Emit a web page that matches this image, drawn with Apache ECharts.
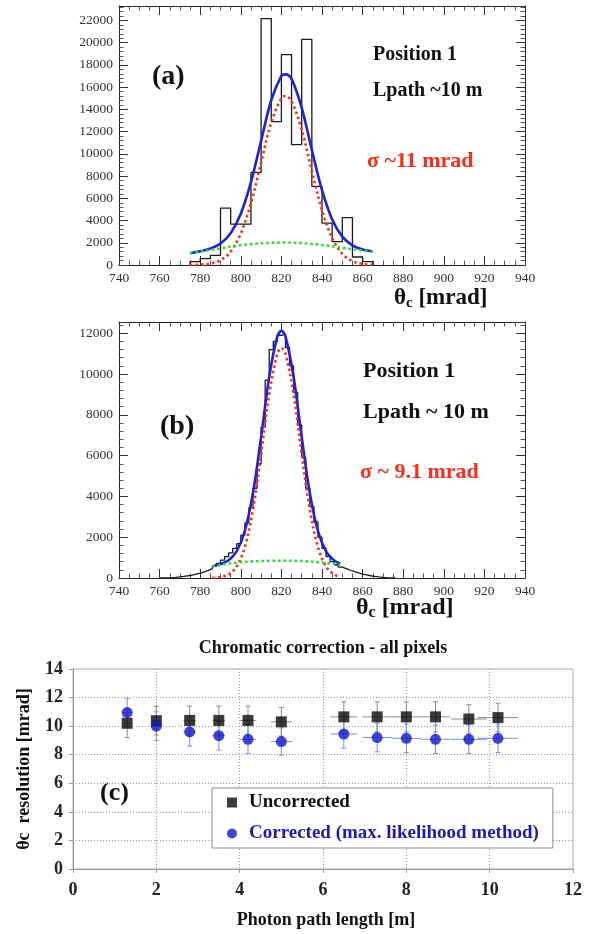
<!DOCTYPE html>
<html>
<head>
<meta charset="utf-8">
<script src="https://cdn.jsdelivr.net/npm/echarts@6/dist/echarts.min.js"></script>
<style>
  html, body { margin: 0; padding: 0; background: #fff; }
  #chart { width: 592px; height: 934px; }
</style>
</head>
<body>
<div id="chart"></div>
<script>
// ---------- (a) Cherenkov angle histogram, uncorrected ----------
const histAEdges = [775, 780, 785, 790, 795, 800, 805, 810, 815, 820, 825, 830, 835, 840, 845, 850, 855, 860, 865];
const histACounts = [300, 570, 870, 5110, 3670, 3670, 8330, 22170, 12900, 18920, 10830, 20300, 7070, 3760, 2100, 4270, 720, 300];

const fitAX = [775, 780, 785, 790, 795, 800, 805, 810, 815, 820, 822, 825, 830, 835, 840, 845, 850, 855, 860, 865];
const fitATotal = [1060, 1230, 1480, 1930, 2860, 4610, 7450, 11170, 14820, 17010, 17150, 16740, 14140, 10350, 6730, 4100, 2550, 1770, 1400, 1225];
const fitASignal = [7, 33, 130, 430, 1210, 2830, 5570, 9220, 12820, 14990, 15200, 14730, 12170, 8450, 4930, 2420, 1000, 350, 100, 25];
const fitABackground = [1050, 1200, 1350, 1500, 1650, 1780, 1880, 1950, 2000, 2020, 2020, 2010, 1970, 1900, 1800, 1680, 1550, 1420, 1300, 1200];

// ---------- (b) Cherenkov angle histogram, chromatically corrected ----------
const histBEdges = [760, 762, 764, 766, 768, 770, 772, 774, 776, 778, 780, 782, 784, 786, 788, 790, 792, 794, 796, 798,
  800, 802, 804, 806, 808, 810, 812, 814, 816, 818, 820, 822, 824, 826, 828, 830, 832, 834, 836, 838,
  840, 842, 844, 846, 848, 850, 852, 854, 856, 858, 860, 862, 864, 866, 868, 870, 872, 874, 876];
const histBCounts = [5, 10, 20, 35, 55, 80, 110, 145, 185, 235, 295, 370, 460, 580, 720, 880, 1050, 1230, 1450, 1680,
  2100, 2700, 3450, 4400, 5600, 7400, 9700, 11200, 11600, 11900, 11950, 11300, 10400, 9100, 7500, 5900, 4400, 3500, 2750, 2000,
  1450, 1050, 800, 650, 530, 460, 380, 310, 250, 190, 150, 110, 80, 55, 35, 20, 10, 0];

const fitBX = [786, 790, 794, 798, 802, 806, 810, 814, 818, 820, 822, 826, 830, 834, 838, 842, 846, 849];
const fitBTotal = [580, 684, 874, 1317, 2315, 4175, 6910, 9865, 11845, 12115, 11845, 9865, 6910, 4170, 2305, 1307, 864, 703];
const fitBSignal = [10, 44, 174, 567, 1525, 3360, 6080, 9025, 11000, 11270, 11000, 9025, 6080, 3360, 1525, 567, 174, 63];
const fitBBackground = [570, 640, 700, 750, 790, 815, 830, 840, 845, 845, 845, 840, 830, 810, 780, 740, 690, 640];

// ---------- (c) resolution vs photon path length ----------
const pathLength = [1.3, 2.0, 2.8, 3.5, 4.2, 5.0, 6.5, 7.3, 8.0, 8.7, 9.5, 10.2];
const pathLengthErr = [0.1, 0.1, 0.15, 0.15, 0.2, 0.25, 0.32, 0.35, 0.35, 0.35, 0.43, 0.48];
const uncorrected = [10.2, 10.38, 10.4, 10.4, 10.4, 10.3, 10.65, 10.65, 10.65, 10.65, 10.5, 10.6];
const uncorrectedErr = [1.0, 1.0, 1.0, 1.0, 1.0, 1.0, 1.05, 1.05, 1.05, 1.05, 1.0, 1.0];
const corrected = [10.95, 10.0, 9.6, 9.33, 9.08, 8.92, 9.45, 9.2, 9.15, 9.08, 9.08, 9.15];
const correctedErr = [1.0, 1.0, 1.0, 1.0, 1.0, 0.95, 1.0, 1.0, 1.0, 1.0, 1.0, 1.0];

const angleTicks = { min: 740, max: 940, step: 20 };
const resolutionTicks = { min: 0, max: 14, step: 2 };
const pathTicks = { min: 0, max: 12, step: 2 };

const SERIF = '"Liberation Serif", "DejaVu Serif", serif';

// outline of a step histogram built from bin edges and contents
function histOutline(edges, counts) {
  const pts = [[edges[0], 0]];
  counts.forEach((c, i) => { pts.push([edges[i], c], [edges[i + 1], c]); });
  pts.push([edges[edges.length - 1], 0]);
  return pts;
}
function pairs(xs, ys) { return xs.map((x, i) => [x, ys[i]]); }

// ROOT-style framed axes: labelled bottom/left, tick-only top/right
function frameX(grid, pos, labelled) {
  return {
    type: 'value', gridIndex: grid, position: pos,
    min: angleTicks.min, max: angleTicks.max, interval: angleTicks.step,
    axisLine: { show: true, onZero: false, lineStyle: { color: '#222', width: 1 } },
    axisTick: { show: true, inside: true, length: 9, lineStyle: { color: '#333', width: 1 } },
    minorTick: { show: true, splitNumber: 4, length: 4.5, lineStyle: { color: '#555', width: 1 } },
    axisLabel: { show: labelled, fontFamily: SERIF, fontSize: 13.5, color: '#333', margin: 6 },
    splitLine: { show: false }
  };
}
function frameY(grid, pos, labelled, max, step) {
  return {
    type: 'value', gridIndex: grid, position: pos, min: 0, max: max, interval: step,
    axisLine: { show: true, onZero: false, lineStyle: { color: '#222', width: 1 } },
    axisTick: { show: true, inside: true, length: 9, lineStyle: { color: '#333', width: 1 } },
    minorTick: { show: true, splitNumber: 5, length: 4.5, lineStyle: { color: '#555', width: 1 } },
    axisLabel: {
      show: labelled, fontFamily: SERIF, fontSize: 13.5, color: '#333', margin: 6,
      formatter: v => (v % step === 0 ? String(v) : '')
    },
    splitLine: { show: false }
  };
}

function lineSeries(name, xi, yi, data, color, width, dash, smooth, z) {
  return {
    name, type: 'line', xAxisIndex: xi, yAxisIndex: yi, data,
    smooth, symbol: 'none', silent: true, z,
    lineStyle: { color, width, type: dash, cap: 'butt' }
  };
}

function errorBars(color) {
  return function (params, api) {
    const x = api.value(0), y = api.value(1), ex = api.value(2), ey = api.value(3);
    const l = api.coord([x - ex, y]), r = api.coord([x + ex, y]);
    const t = api.coord([x, y + ey]), b = api.coord([x, y - ey]);
    const cap = 2.5;
    const style = { stroke: color, lineWidth: 1 };
    return {
      type: 'group', children: [
        { type: 'line', shape: { x1: l[0], y1: l[1], x2: r[0], y2: r[1] }, style },
        { type: 'line', shape: { x1: t[0], y1: t[1], x2: b[0], y2: b[1] }, style },
        { type: 'line', shape: { x1: t[0] - cap, y1: t[1], x2: t[0] + cap, y2: t[1] }, style },
        { type: 'line', shape: { x1: b[0] - cap, y1: b[1], x2: b[0] + cap, y2: b[1] }, style }
      ]
    };
  };
}

const RED = '#ff2a1a', BLUE = '#1f22d6', GREEN = '#22dd33';
const dotted = [2.5, 3];

function label(x, y, text, size, color, align) {
  return {
    type: 'text', x, y, silent: true,
    style: { text, fill: color || '#111', font: 'bold ' + size + 'px ' + SERIF, align: align || 'left', verticalAlign: 'middle' }
  };
}
function thetaLabel(x, y, size) {
  return {
    type: 'text', x, y, silent: true,
    style: {
      text: '{t|θ}{s|c}{t| [mrad]}', align: 'left', verticalAlign: 'middle',
      rich: {
        t: { fontFamily: SERIF, fontWeight: 'bold', fontSize: size, fill: '#111', lineHeight: size + 2 },
        s: { fontFamily: SERIF, fontWeight: 'bold', fontSize: Math.round(size * 0.65), fill: '#111', verticalAlign: 'bottom', lineHeight: Math.round(size * 0.65) }
      }
    }
  };
}

const chart = echarts.init(document.getElementById('chart'), null, { renderer: 'canvas' });

chart.setOption({
  backgroundColor: '#fff',
  animation: false,
  grid: [
    { left: 119, top: 6, width: 406, height: 259 },
    { left: 119, top: 322, width: 406, height: 256 },
    { left: 73, top: 669, width: 500, height: 200, show: true, borderColor: '#a8a8a8', borderWidth: 1, backgroundColor: 'transparent' }
  ],
  xAxis: [
    frameX(0, 'bottom', true), frameX(0, 'top', false),
    frameX(1, 'bottom', true), frameX(1, 'top', false),
    {
      type: 'value', gridIndex: 2, min: pathTicks.min, max: pathTicks.max, interval: pathTicks.step,
      axisLine: { show: true, onZero: false, lineStyle: { color: '#999' } },
      axisTick: { show: true, length: 4, lineStyle: { color: '#999' } },
      axisLabel: { fontFamily: SERIF, fontWeight: 'bold', fontSize: 18, color: '#222', margin: 12 },
      splitLine: { show: true, showMinLine: false, showMaxLine: false, lineStyle: { color: '#e87a7a', type: [1, 2], width: 1 } }
    }
  ],
  yAxis: [
    frameY(0, 'left', true, 23300, 2000), frameY(0, 'right', false, 23300, 2000),
    frameY(1, 'left', true, 12550, 2000), frameY(1, 'right', false, 12550, 2000),
    {
      type: 'value', gridIndex: 2, min: resolutionTicks.min, max: resolutionTicks.max, interval: resolutionTicks.step,
      axisLine: { show: true, onZero: false, lineStyle: { color: '#999' } },
      axisTick: { show: true, length: 4, lineStyle: { color: '#999' } },
      axisLabel: { fontFamily: SERIF, fontWeight: 'bold', fontSize: 18, color: '#222', margin: 10 },
      splitLine: { show: true, showMinLine: false, showMaxLine: false, lineStyle: { color: '#9a9a9a', type: [1, 2], width: 1 } }
    }
  ],
  legend: {
    left: 212, top: 788, orient: 'vertical',
    padding: [5, 14, 5, 15], itemGap: 12, itemWidth: 10, itemHeight: 10,
    backgroundColor: '#fff', borderColor: '#8c8c8c', borderWidth: 1,
    textStyle: { fontFamily: SERIF, fontWeight: 'bold', fontSize: 19, padding: [0, 0, 0, 7] },
    data: [
      { name: 'Uncorrected', icon: 'rect', textStyle: { color: '#111' } },
      { name: 'Corrected (max. likelihood method)', icon: 'circle', textStyle: { color: '#1b1bb4' } }
    ]
  },
  series: [
    // (a)
    lineSeries('histA', 0, 0, histOutline(histAEdges, histACounts), '#1a1a1a', 1.3, 'solid', false, 2),
    lineSeries('fitA total', 0, 0, pairs(fitAX, fitATotal), BLUE, 2.6, 'solid', 0.35, 3),
    lineSeries('fitA signal', 0, 0, pairs(fitAX, fitASignal), RED, 2.6, dotted, 0.35, 4),
    lineSeries('fitA background', 0, 0, pairs(fitAX, fitABackground), GREEN, 2.6, dotted, 0.35, 5),
    // (b)
    lineSeries('histB', 2, 2, histOutline(histBEdges, histBCounts), '#1a1a1a', 1.3, 'solid', false, 2),
    lineSeries('fitB total', 2, 2, pairs(fitBX, fitBTotal), BLUE, 2.6, 'solid', 0.35, 3),
    lineSeries('fitB signal', 2, 2, pairs(fitBX, fitBSignal), RED, 2.6, dotted, 0.35, 4),
    lineSeries('fitB background', 2, 2, pairs(fitBX, fitBBackground), GREEN, 2.6, dotted, 0.35, 5),
    // (c)
    {
      name: 'errUncorrected', type: 'custom', xAxisIndex: 4, yAxisIndex: 4, z: 2, silent: true,
      encode: { x: 0, y: 1 }, renderItem: errorBars('#8a8a8a'),
      data: pathLength.map((x, i) => [x, uncorrected[i], pathLengthErr[i], uncorrectedErr[i]])
    },
    {
      name: 'errCorrected', type: 'custom', xAxisIndex: 4, yAxisIndex: 4, z: 2, silent: true,
      encode: { x: 0, y: 1 }, renderItem: errorBars('#7d8fd8'),
      data: pathLength.map((x, i) => [x, corrected[i], pathLengthErr[i], correctedErr[i]])
    },
    {
      name: 'Uncorrected', type: 'scatter', xAxisIndex: 4, yAxisIndex: 4, z: 4,
      symbol: 'rect', symbolSize: 11, itemStyle: { color: '#0a0a0a' },
      data: pairs(pathLength, uncorrected)
    },
    {
      name: 'Corrected (max. likelihood method)', type: 'scatter', xAxisIndex: 4, yAxisIndex: 4, z: 4,
      symbol: 'circle', symbolSize: 11, itemStyle: { color: '#1515c8' },
      data: pairs(pathLength, corrected)
    }
  ],
  graphic: [
    label(152, 77, '(a)', 28),
    label(373, 55, 'Position 1', 20),
    label(373, 91, 'Lpath ~10 m', 20),
    label(367, 161, 'σ ~11 mrad', 22, RED),
    thetaLabel(394, 298, 23),

    label(160, 427, '(b)', 28),
    label(363, 371, 'Position 1', 22),
    label(363, 412, 'Lpath ~ 10 m', 22),
    label(360, 472, 'σ ~ 9.1 mrad', 22, RED),
    thetaLabel(356, 608, 24),

    label(323, 648, 'Chromatic correction - all pixels', 18, '#111', 'center'),
    label(100, 793, '(c)', 26),
    label(326, 920, 'Photon path length [m]', 18, '#111', 'center'),
    {
      type: 'text', x: 24, y: 769, rotation: Math.PI / 2, silent: true,
      style: { text: 'θc  resolution [mrad]', fill: '#111', font: 'bold 18px ' + SERIF, align: 'center', verticalAlign: 'middle' }
    }
  ]
});
</script>
</body>
</html>
